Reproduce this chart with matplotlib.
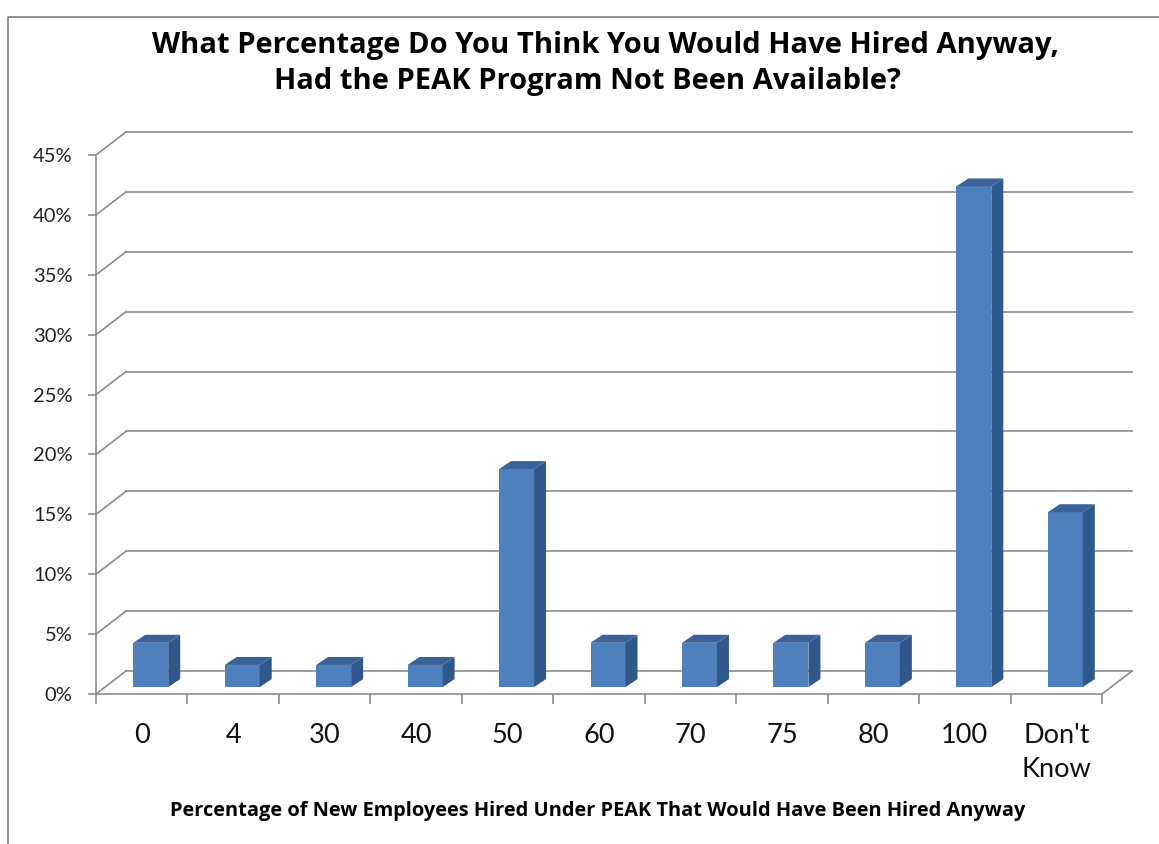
import matplotlib
matplotlib.use("Agg")
import matplotlib.pyplot as plt
from matplotlib.patches import Polygon
from matplotlib.lines import Line2D

plt.rcParams['font.family'] = ['Lato', 'DejaVu Sans']

# data
categories = ["0", "4", "30", "40", "50", "60", "70", "75", "80", "100", "Don't\nKnow"]
percent_hired = [3.7, 1.85, 1.85, 1.85, 18.2, 3.7, 3.7, 3.7, 3.7, 41.8, 14.6]
y_ticks = [0, 5, 10, 15, 20, 25, 30, 35, 40, 45]

W, H = 1159, 844
fig = plt.figure(figsize=(W / 100, H / 100), dpi=100)
# axes = front plane of the 3d box
ax = fig.add_axes([96 / W, (H - 694) / H, 1006 / W, (694 - 155) / H])
ax.set_xlim(0, len(categories))
ax.set_ylim(0, 45)

grid_c = '#8c8c8c'
px_x = len(categories) / 1006.0   # data units per pixel
px_y = 45 / 539.0
DX, DY = 30 * px_x, 23 * px_y     # depth of the box

n = len(categories)
# back wall gridlines + left wall diagonals
for v in y_ticks:
    ax.plot([DX, n + DX], [v + DY, v + DY], color=grid_c, lw=1.2, clip_on=False, zorder=1)
    ax.plot([0, DX], [v, v + DY], color=grid_c, lw=1.2, clip_on=False, zorder=1)
# floor right edge
ax.plot([n, n + DX], [0, DY], color=grid_c, lw=1.2, clip_on=False, zorder=1)

# bars
f0 = 0.3
bw = 35 * px_x
ddx, ddy = 12 * px_x, 8 * px_y
base = f0 * DY
xs = [i + 0.5 + f0 * DX for i in range(n)]
ax.bar(xs, percent_hired, width=bw, bottom=base, color='#4d80bd', zorder=3)
for x, v in zip(xs, percent_hired):
    xl, xr = x - bw / 2, x + bw / 2
    top = base + v
    side = Polygon([(xr, base), (xr + ddx, base + ddy), (xr + ddx, top + ddy), (xr, top)],
                   closed=True, fc='#30588a', ec='none', zorder=3, clip_on=False)
    lid = Polygon([(xl, top), (xr, top), (xr + ddx, top + ddy), (xl + ddx, top + ddy)],
                  closed=True, fc='#3a6499', ec='none', zorder=3, clip_on=False)
    ax.add_patch(side)
    ax.add_patch(lid)

# axes styling
for s in ['top', 'right']:
    ax.spines[s].set_visible(False)
for s in ['left', 'bottom']:
    ax.spines[s].set_color(grid_c)
    ax.spines[s].set_linewidth(1.2)
ax.set_yticks(y_ticks)
ax.set_yticklabels(['%d%%' % t for t in y_ticks], fontsize=14.5, color='#222222')
ax.tick_params(axis='y', length=6, width=1.2, color=grid_c, pad=11)
ax.set_xticks([i + 0.5 for i in range(n)])
ax.set_xticklabels(categories, fontsize=19.5, color='#111111', linespacing=1.45)
ax.set_xticks(range(n + 1), minor=True)
ax.tick_params(axis='x', which='major', length=0, pad=21)
ax.tick_params(axis='x', which='minor', length=7, width=1.2, color=grid_c)
ax.patch.set_alpha(0)

# titles
title_font = ['Open Sans', 'DejaVu Sans']
fig.text(606 / W, 1 - 45 / H, "What Percentage Do You Think You Would Have Hired Anyway,",
         ha='center', va='center', fontsize=21, fontweight='bold', family=title_font)
fig.text(588 / W, 1 - 82 / H, "Had the PEAK Program Not Been Available?",
         ha='center', va='center', fontsize=21, fontweight='bold', family=title_font)
fig.text(598 / W, 1 - 811 / H,
         "Percentage of New Employees Hired Under PEAK That Would Have Been Hired Anyway",
         ha='center', va='center', fontsize=14.4, fontweight='bold', family=title_font)

# chart frame
fig.add_artist(Line2D([8 / W, 8 / W, 1.0], [0, 1 - 17 / H, 1 - 17 / H],
                      color='#7f7f7f', lw=1.2))

fig.savefig('out.png', dpi=100)
